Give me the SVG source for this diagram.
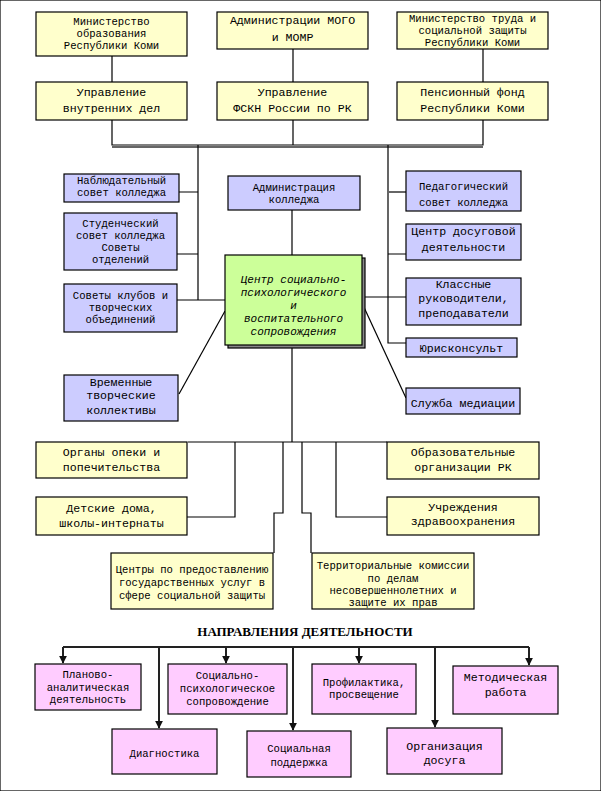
<svg xmlns="http://www.w3.org/2000/svg" width="601" height="791" viewBox="0 0 601 791">
  <style>
    rect { stroke: #000; stroke-width: 1.2; }
    .y { fill: #FFFFCC; }
    .p { fill: #CCCCFF; }
    .k { fill: #FFCCFF; }
    text { font-family: "Liberation Mono", "Courier New", monospace; fill: #000; text-anchor: middle; }
    .s { font-size: 10.6px; }
    .m { font-size: 11.6px; }
    .c { font-size: 11px; font-style: italic; }
    .t { font-family: "Liberation Serif", "Times New Roman", serif; font-weight: bold; font-size: 13px; }
    .ln { fill: none; stroke: #000; stroke-width: 1.2; }
    .gl { fill: none; stroke: #666; stroke-width: 2; }
    .ar { fill: none; stroke: #222; stroke-width: 2; }
  </style>
  <defs>
    <marker id="ah" viewBox="0 0 10 10" refX="9" refY="5" markerWidth="4" markerHeight="4" orient="auto" markerUnits="strokeWidth">
      <path d="M0,0 L10,5 L0,10 z" fill="#111"/>
    </marker>
  </defs>
  <rect width="601" height="791" fill="#fff" stroke="none"/>

  <!-- connectors -->
  <g id="connectors">
    <!-- top block -->
    <path class="ln" d="M112,56 V82 M293,49 V82 M483,49 V82"/>
    <path class="gl" d="M112,147 H483" stroke="#999"/>
    <path class="ln" d="M112,120 V145 H483 V120 M293,120 V145"/>
    <!-- left rail -->
    <path class="ln" d="M198,145 V300 M179,192 H198 M177,254 H198 M177,300 H225"/>
    <!-- right rail -->
    <path class="ln" d="M388,145 V343 H406 M388,254 H406 M362,297 H406"/>
    <path class="gl" d="M388,192 H406" stroke="#888"/>
    <!-- administration to centre -->
    <path class="ln" d="M292,210 V255"/>
    <!-- diagonals -->
    <path class="ln" d="M225,311 L179,394" stroke="#333" stroke-width="1"/>
    <path class="ln" d="M362,303 L406,398" stroke="#333" stroke-width="1"/>
    <!-- lower block -->
    <path class="gl" d="M292,345 V442" stroke="#555"/>
    <path class="ln" d="M188,442 H387" stroke="#444" stroke-width="1.4"/>
    <path class="ln" d="M235,442 V517 H187 M283,442 V513 H274 V553 M302,442 V513 H311 V553 M336,442 V517 H387"/>
    <!-- activity directions -->
    <path class="ar" d="M63,647 H529"/>
    <path class="ar" marker-end="url(#ah)" d="M63,647 V663"/>
    <path class="ar" marker-end="url(#ah)" d="M159,647 V728"/>
    <path class="ar" marker-end="url(#ah)" d="M226,647 V663"/>
    <path class="ar" marker-end="url(#ah)" d="M293,647 V730"/>
    <path class="ar" marker-end="url(#ah)" d="M359,647 V663"/>
    <path class="ar" marker-end="url(#ah)" d="M435,647 V727"/>
    <path class="ar" marker-end="url(#ah)" d="M529,647 V665"/>
  </g>

  <!-- external bodies, top -->
  <g id="min-obr"><rect class="y" x="36" y="12" width="151" height="44"/>
    <text class="s" x="111.5" y="25">Министерство</text><text class="s" x="111.5" y="37">образования</text><text class="s" x="111.5" y="49">Республики Коми</text></g>
  <g id="adm-mogo"><rect class="y" x="217" y="12" width="151" height="37"/>
    <text class="m" x="292.5" y="24">Администрации МОГО</text><text class="m" x="292.5" y="41">и МОМР</text></g>
  <g id="min-trud"><rect class="y" x="397" y="12" width="151" height="37"/>
    <text class="s" x="472.5" y="22">Министерство труда и</text><text class="s" x="472.5" y="34">социальной защиты</text><text class="s" x="472.5" y="46">Республики Коми</text></g>
  <g id="uvd"><rect class="y" x="36" y="82" width="151" height="38"/>
    <text class="m" x="111.5" y="96">Управление</text><text class="m" x="111.5" y="112">внутренних дел</text></g>
  <g id="fskn"><rect class="y" x="217" y="82" width="151" height="38"/>
    <text class="m" x="292.5" y="96">Управление</text><text class="m" x="292.5" y="112">ФСКН России по РК</text></g>
  <g id="pfr"><rect class="y" x="397" y="82" width="151" height="38"/>
    <text class="m" x="472.5" y="96">Пенсионный фонд</text><text class="m" x="472.5" y="112">Республики Коми</text></g>

  <!-- college bodies, left -->
  <g id="nabl"><rect class="p" x="64" y="174" width="115" height="28"/>
    <text class="s" x="121.5" y="184">Наблюдательный</text><text class="s" x="121.5" y="196">совет колледжа</text></g>
  <g id="stud"><rect class="p" x="64" y="213" width="113" height="57"/>
    <text class="s" x="120.5" y="227">Студенческий</text><text class="s" x="120.5" y="239">совет колледжа</text><text class="s" x="120.5" y="251">Советы</text><text class="s" x="120.5" y="263">отделений</text></g>
  <g id="kluby"><rect class="p" x="64" y="284" width="113" height="48"/>
    <text class="s" x="120.5" y="299">Советы клубов и</text><text class="s" x="120.5" y="311">творческих</text><text class="s" x="120.5" y="323">объединений</text></g>
  <g id="vrem"><rect class="p" x="64" y="375" width="114" height="46"/>
    <text class="m" x="121" y="386">Временные</text><text class="m" x="121" y="399">творческие</text><text class="m" x="121" y="414">коллективы</text></g>

  <!-- administration -->
  <g id="admin"><rect class="p" x="228" y="176" width="132" height="34"/>
    <text class="s" x="294" y="191">Администрация</text><text class="s" x="294" y="203">колледжа</text></g>

  <!-- centre -->
  <g id="centr">
    <rect x="228" y="258" width="137" height="90" fill="#888" stroke="none"/>
    <rect x="225" y="255" width="137" height="90" fill="#CCFF99" stroke="#000" stroke-width="3"/>
    <text class="c" x="293.5" y="283">Центр социально-</text>
    <text class="c" x="293.5" y="296">психологического</text>
    <text class="c" x="293.5" y="309">и</text>
    <text class="c" x="293.5" y="322">воспитательного</text>
    <text class="c" x="293.5" y="335">сопровождения</text>
  </g>

  <!-- college bodies, right -->
  <g id="ped"><rect class="p" x="406" y="171" width="115" height="40"/>
    <text class="s" x="463.5" y="190">Педагогический</text><text class="s" x="463.5" y="206">совет колледжа</text></g>
  <g id="dosug-c"><rect class="p" x="406" y="224" width="115" height="36"/>
    <text class="m" x="463.5" y="235">Центр досуговой</text><text class="m" x="463.5" y="251">деятельности</text></g>
  <g id="klass"><rect class="p" x="406" y="278" width="115" height="47"/>
    <text class="m" x="463.5" y="288">Классные</text><text class="m" x="463.5" y="302">руководители,</text><text class="m" x="463.5" y="317">преподаватели</text></g>
  <g id="yur"><rect class="p" x="406" y="338" width="111" height="19"/>
    <text class="m" x="461.5" y="352">Юрисконсульт</text></g>
  <g id="med"><rect class="p" x="406" y="388" width="114" height="26"/>
    <text class="m" x="463" y="407">Служба медиации</text></g>

  <!-- external bodies, bottom -->
  <g id="opeka"><rect class="y" x="36" y="442" width="151" height="36"/>
    <text class="m" x="111.5" y="456">Органы опеки и</text><text class="m" x="111.5" y="471">попечительства</text></g>
  <g id="detdom"><rect class="y" x="36" y="497" width="151" height="38"/>
    <text class="m" x="111.5" y="512">Детские дома,</text><text class="m" x="111.5" y="527">школы-интернаты</text></g>
  <g id="csz"><rect class="y" x="111" y="553" width="162" height="56"/>
    <text class="s" x="192" y="573">Центры по предоставлению</text><text class="s" x="192" y="586">государственных услуг в</text><text class="s" x="192" y="599">сфере социальной защиты</text></g>
  <g id="kdn"><rect class="y" x="312" y="553" width="162" height="56"/>
    <text class="s" x="393" y="569">Территориальные комиссии</text><text class="s" x="393" y="582">по делам</text><text class="s" x="393" y="594">несовершеннолетних и</text><text class="s" x="393" y="606">защите их прав</text></g>
  <g id="obr-org"><rect class="y" x="387" y="442" width="152" height="37"/>
    <text class="m" x="463" y="456">Образовательные</text><text class="m" x="463" y="471">организации РК</text></g>
  <g id="zdrav"><rect class="y" x="387" y="497" width="152" height="38"/>
    <text class="m" x="463" y="511">Учреждения</text><text class="m" x="463" y="525">здравоохранения</text></g>

  <!-- directions -->
  <text class="t" x="305" y="636">НАПРАВЛЕНИЯ ДЕЯТЕЛЬНОСТИ</text>
  <g id="plan"><rect class="k" x="35" y="664" width="106" height="46"/>
    <text class="s" x="88" y="678">Планово-</text><text class="s" x="88" y="691">аналитическая</text><text class="s" x="88" y="703">деятельность</text></g>
  <g id="soc-psy"><rect class="k" x="168" y="664" width="119" height="50"/>
    <text class="s" x="227.5" y="679">Социально-</text><text class="s" x="227.5" y="692">психологическое</text><text class="s" x="227.5" y="705">сопровождение</text></g>
  <g id="prof"><rect class="k" x="312" y="664" width="104" height="50"/>
    <text class="s" x="364" y="686">Профилактика,</text><text class="s" x="364" y="698">просвещение</text></g>
  <g id="metod"><rect class="k" x="453" y="666" width="105" height="48"/>
    <text class="m" x="505.5" y="681">Методическая</text><text class="m" x="505.5" y="696">работа</text></g>
  <g id="diag"><rect class="k" x="112" y="729" width="105" height="45"/>
    <text class="s" x="164.5" y="757">Диагностика</text></g>
  <g id="soc-pod"><rect class="k" x="247" y="731" width="104" height="46"/>
    <text class="s" x="299" y="752">Социальная</text><text class="s" x="299" y="766">поддержка</text></g>
  <g id="dosug"><rect class="k" x="387" y="728" width="115" height="46"/>
    <text class="m" x="444.5" y="750">Организация</text><text class="m" x="444.5" y="764">досуга</text></g>
</svg>
